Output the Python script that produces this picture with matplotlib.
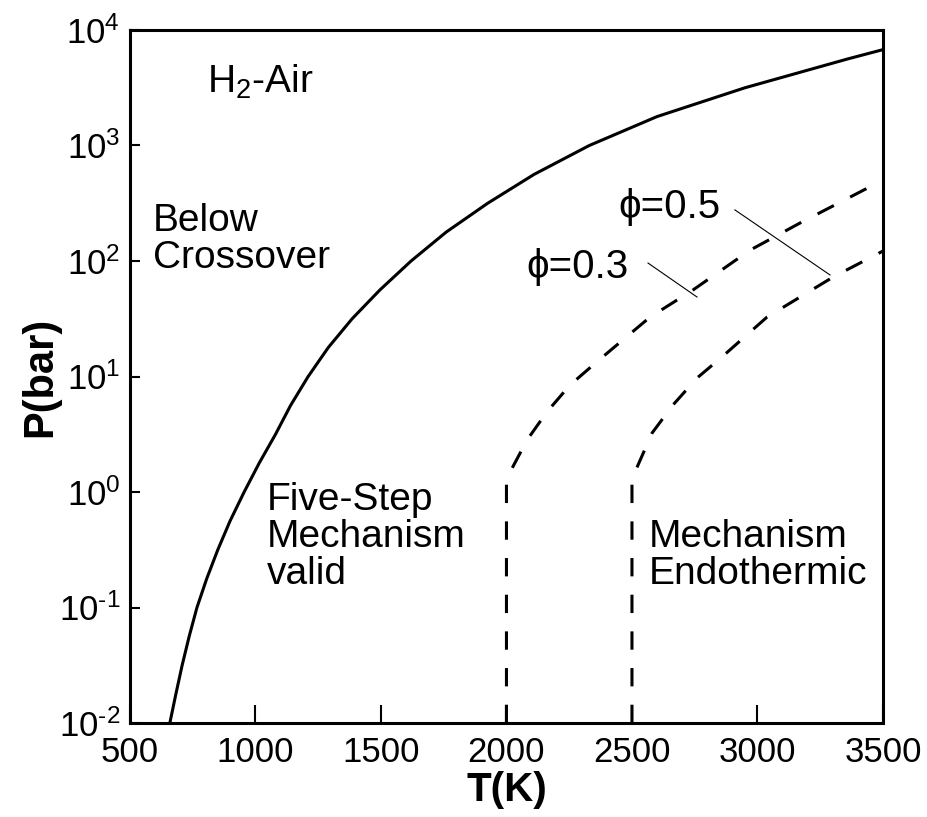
import matplotlib
matplotlib.use('Agg')
import numpy as np
import matplotlib.pyplot as plt
from matplotlib import rcParams, ticker

rcParams['font.family'] = ['Liberation Sans', 'DejaVu Sans']
rcParams['mathtext.fontset'] = 'custom'
rcParams['mathtext.rm'] = 'Liberation Sans'
rcParams['mathtext.default'] = 'regular'
rcParams['axes.unicode_minus'] = False

# crossover boundary (solid line)
CROSS_T = [659, 683, 708, 736, 767, 806, 850, 899, 955, 1015, 1080, 1140,
           1210, 1290, 1385, 1496, 1620, 1760, 1925, 2110, 2330, 2600,
           2950, 3360, 3500]
CROSS_P = [0.01, 0.0178, 0.0316, 0.0562, 0.1, 0.178, 0.316, 0.562, 1.0,
           1.78, 3.16, 5.62, 10, 17.8, 31.6, 56.2, 100, 178, 316, 562,
           1000, 1780, 3160, 5620, 6760]

# endothermic limit, phi = 0.3
PHI03_T = [2000, 2000, 2082, 2161, 2253, 2360, 2572, 2743, 2970, 3169, 3500]
PHI03_P = [0.01, 1.3, 2.82, 4.93, 8.43, 13.4, 32.7, 56.1, 124, 213, 502]

# endothermic limit, phi = 0.5
PHI05_T = [2500, 2500, 2580, 2663, 2759, 2859, 3038, 3301, 3500]
PHI05_P = [0.01, 1.3, 3.24, 5.66, 9.7, 14.8, 32.7, 72.6, 122]

X_TICKS = [500, 1000, 1500, 2000, 2500, 3000, 3500]
Y_TICKS = [1e-2, 1e-1, 1e0, 1e1, 1e2, 1e3, 1e4]


def pow10_label(v, pos):
    # short hyphen in the exponent instead of a minus sign
    exp = str(int(round(np.log10(v)))).replace('-', '\u2010')
    return '$10^{%s}$' % exp


def main():
    fig, ax = plt.subplots(figsize=(9.28, 8.17), dpi=100)
    fig.subplots_adjust(left=0.140, right=0.9515, bottom=0.115, top=0.9633)

    ax.plot(CROSS_T, CROSS_P, 'k-', lw=2.2)
    ax.plot(PHI03_T, PHI03_P, 'k-', lw=2.2, dashes=(6, 6))
    ax.plot(PHI05_T, PHI05_P, 'k-', lw=2.2, dashes=(6, 6))

    # leader lines for the phi labels
    ax.plot([2910, 3289], [277, 75.7], 'k-', lw=0.8)
    ax.plot([2564, 2759], [96, 48.8], 'k-', lw=0.8)

    ax.set_yscale('log')
    ax.set_xlim(500, 3500)
    ax.set_ylim(1e-2, 1e4)
    ax.set_xticks(X_TICKS)
    ax.set_yticks(Y_TICKS)
    ax.yaxis.set_major_formatter(ticker.FuncFormatter(pow10_label))
    ax.yaxis.set_minor_locator(ticker.NullLocator())
    ax.xaxis.set_minor_locator(ticker.NullLocator())

    ax.tick_params(axis='x', direction='in', length=13, width=1.5,
                   pad=9, labelsize=25)
    ax.tick_params(axis='y', direction='in', length=7.5, width=1.5,
                   pad=7, labelsize=25)
    for sp in ax.spines.values():
        sp.set_linewidth(2.2)

    ax.set_xlabel('T(K)', fontsize=29, fontweight='bold')
    ax.set_ylabel('P(bar)', fontsize=30, fontweight='bold')
    ax.xaxis.set_label_coords(0.5, -0.069)
    ax.yaxis.set_label_coords(-0.093, 0.5)

    tr = ax.transAxes
    ax.text(0.102, 0.909, 'H$_2$-Air', transform=tr, fontsize=28,
            va='baseline')
    ax.text(0.030, 0.750, 'Below\nCrossover', transform=tr, fontsize=28,
            va='top', linespacing=1.03)
    ax.text(0.182, 0.348, 'Five-Step\nMechanism\nvalid', transform=tr,
            fontsize=28, va='top', linespacing=1.03)
    ax.text(0.689, 0.294, 'Mechanism\nEndothermic', transform=tr,
            fontsize=28, va='top', linespacing=1.03)
    ax.text(0.648, 0.729, '\u03d5=0.5', transform=tr, fontsize=29,
            va='baseline')
    ax.text(0.527, 0.642, '\u03d5=0.3', transform=tr, fontsize=29,
            va='baseline')

    fig.savefig('out.png', dpi=100)


if __name__ == '__main__':
    main()
